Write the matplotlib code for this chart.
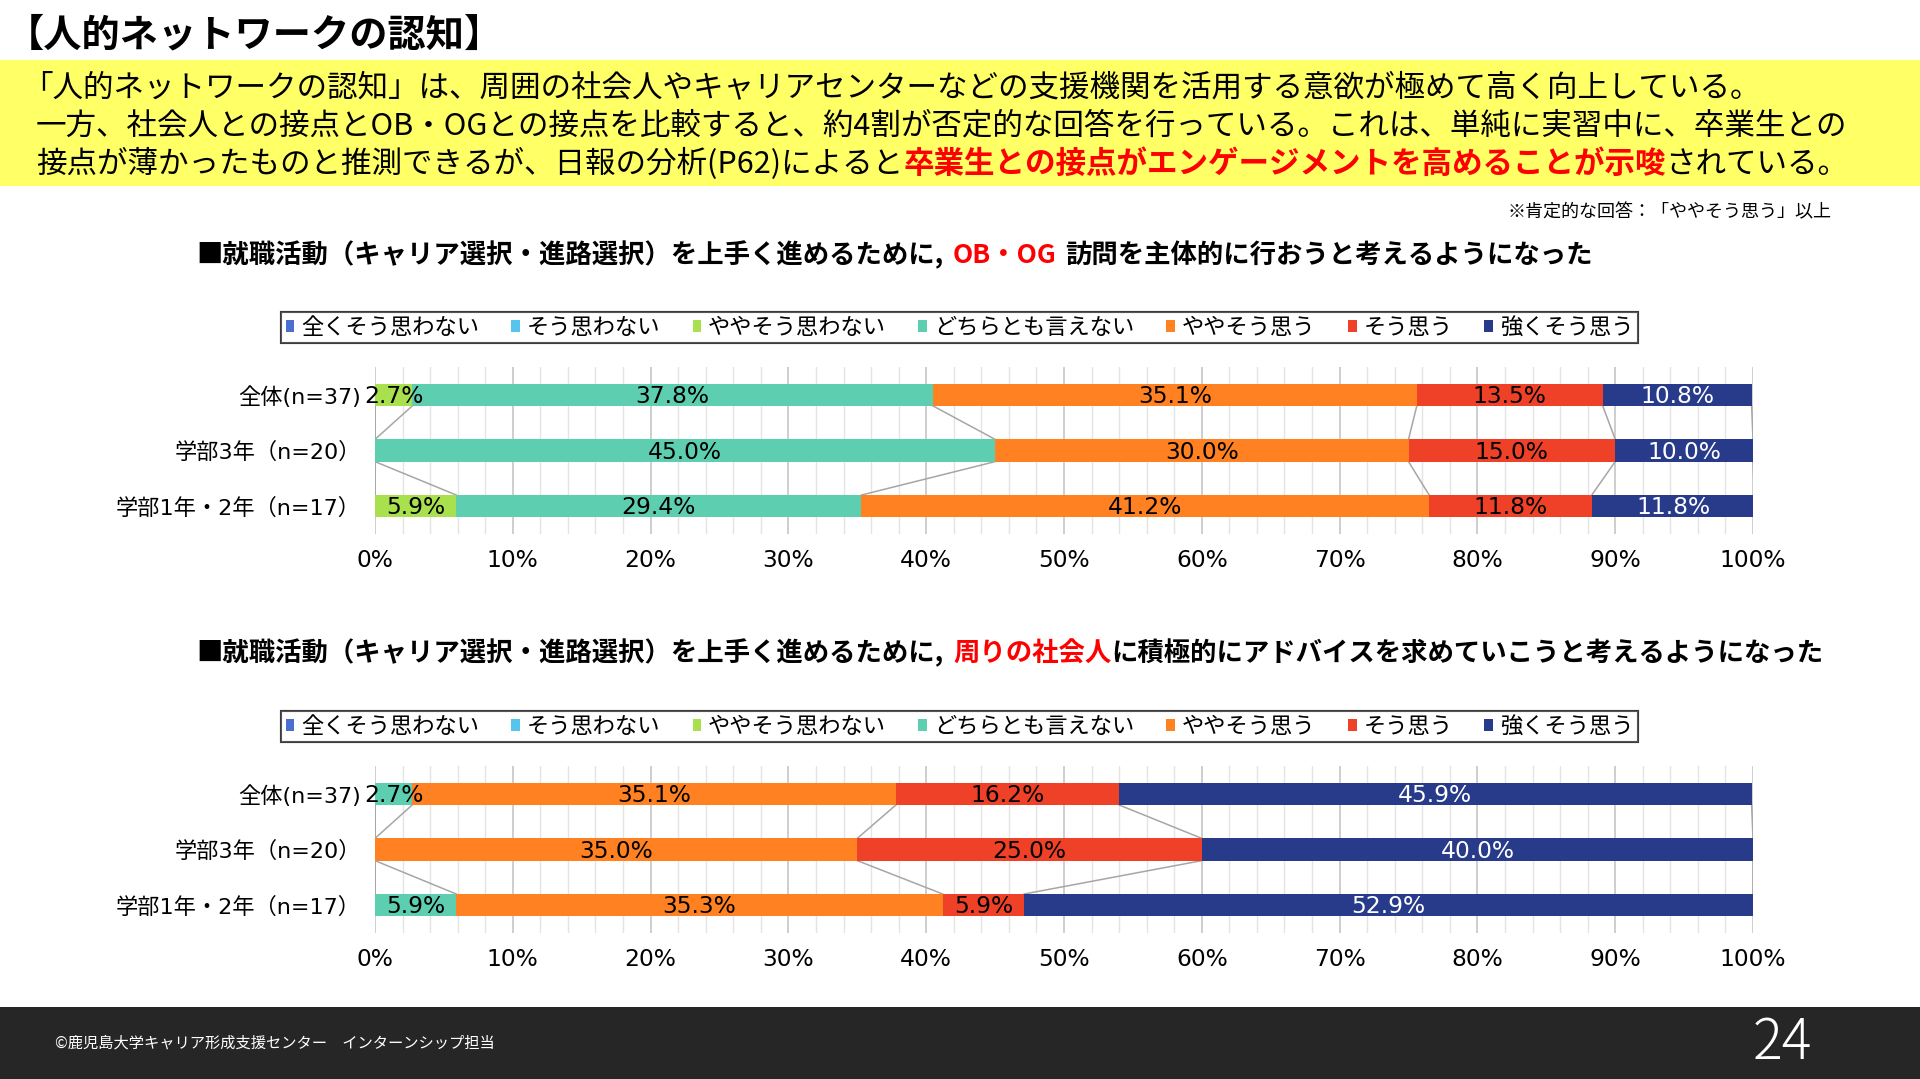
import numpy as np
import matplotlib.pyplot as plt
from matplotlib.patches import Rectangle, Patch
from matplotlib.text import Annotation

plt.rcParams['font.family'] = ['Noto Sans CJK JP', 'DejaVu Sans']

W, H = 1920, 1079

categories = ['全体(n=37)', '学部3年（n=20）', '学部1年・2年（n=17）']
answers = ['全くそう思わない', 'そう思わない', 'ややそう思わない', 'どちらとも言えない',
           'ややそう思う', 'そう思う', '強くそう思う']
colors = ['#4A6FD1', '#55C5EE', '#A8E04E', '#5DCFB0', '#FF8122', '#EE4128', '#283A8A']

# OB・OG訪問
obog_all = [0, 0, 2.7, 37.8, 35.1, 13.5, 10.8]
obog_y3 = [0, 0, 0, 45.0, 30.0, 15.0, 10.0]
obog_y12 = [0, 0, 5.9, 29.4, 41.2, 11.8, 11.8]

# 周りの社会人へのアドバイス
adv_all = [0, 0, 0, 2.7, 35.1, 16.2, 45.9]
adv_y3 = [0, 0, 0, 0, 35.0, 25.0, 40.0]
adv_y12 = [0, 0, 0, 5.9, 35.3, 5.9, 52.9]

xticks = [0, 10, 20, 30, 40, 50, 60, 70, 80, 90, 100]


def fx(x):
    return x / W


def fy(y):
    return 1 - y / H


fig = plt.figure(figsize=(19.2, 10.79), dpi=100)


def rich_text(x, y, parts, size, gaps=None):
    # parts: (text, color, weight) drawn one after another
    s, c, w = parts[0]
    t = fig.text(x, y, s, color=c, weight=w, fontsize=size, va='center', ha='left')
    for k, (s, c, w) in enumerate(parts[1:]):
        g = gaps[k] if gaps else 0
        a = Annotation(s, xy=(1, 0), xycoords=t, xytext=(g, 0), textcoords='offset points',
                       va='bottom', ha='left', color=c, weight=w, fontsize=size)
        fig.add_artist(a)
        t = a
    return t


def stacked(ax, rows):
    data = np.array(rows, dtype=float)
    cum = np.cumsum(data, axis=1)
    ypos = np.arange(len(rows))
    h = 0.4
    left = np.zeros(len(rows))
    for i in range(data.shape[1]):
        ax.barh(ypos, data[:, i], left=left, height=h, color=colors[i], zorder=3)
        for j in range(len(rows)):
            v = data[j, i]
            if v > 0:
                ax.text(left[j] + v / 2, ypos[j] + 0.03, f'{v:.1f}%', ha='center', va='center',
                        fontsize=16.8, family='DejaVu Sans',
                        color='white' if i == 6 else 'black', zorder=5)
        left = left + data[:, i]
    # series lines
    for i in range(data.shape[1]):
        for j in range(len(rows) - 1):
            ax.plot([cum[j, i], cum[j + 1, i]], [j + h / 2, j + 1 - h / 2],
                    color='#A6A6A6', lw=1.1, zorder=2)
    ax.set_xlim(0, 100)
    ax.set_ylim(2.5, -0.5)
    ax.set_yticks(ypos)
    ax.set_yticklabels(categories, fontsize=16, family=['DejaVu Sans', 'Noto Sans CJK JP'])
    ax.set_xticks(xticks)
    ax.set_xticklabels([f'{t}%' for t in xticks], fontsize=16.8, family='DejaVu Sans')
    ax.set_xticks(np.arange(0, 101, 2), minor=True)
    ax.grid(which='minor', axis='x', color='#E4E4E4', lw=1, zorder=0)
    ax.grid(which='major', axis='x', color='#C6C6C6', lw=1.2, zorder=0)
    ax.tick_params(which='both', length=0)
    ax.tick_params(axis='y', pad=10)
    ax.tick_params(axis='x', pad=11)
    for sp in ax.spines.values():
        sp.set_visible(False)


# header
fig.text(fx(6), fy(35), '【人的ネットワークの認知】', fontsize=27.5, weight='bold', va='center', ha='left')
fig.add_artist(Rectangle((0, fy(186)), 1, (186 - 60) / H, transform=fig.transFigure,
                         facecolor='#FFFF66', edgecolor='none', zorder=0))
fig.text(fx(22), fy(88), '「人的ネットワークの認知」は、周囲の社会人やキャリアセンターなどの支援機関を活用する意欲が極めて高く向上している。',
         fontsize=22, va='center', ha='left')
fig.text(fx(36), fy(126), '一方、社会人との接点とOB・OGとの接点を比較すると、約4割が否定的な回答を行っている。これは、単純に実習中に、卒業生との',
         fontsize=22, va='center', ha='left')
rich_text(fx(36), fy(164), [('接点が薄かったものと推測できるが、日報の分析(P62)によると', 'black', 'normal'),
                            ('卒業生との接点がエンゲージメントを高めることが示唆', '#FF0000', 'bold'),
                            ('されている。', 'black', 'normal')], 22)
fig.text(fx(1831), fy(212), '※肯定的な回答：「ややそう思う」以上', fontsize=13, va='center', ha='right')

# chart titles
rich_text(fx(196), fy(255), [('■就職活動（キャリア選択・進路選択）を上手く進めるために,', 'black', 'bold'),
                             ('OB・OG', '#FF0000', 'bold'),
                             ('訪問を主体的に行おうと考えるようになった', 'black', 'bold')], 19, gaps=[7, 6])
rich_text(fx(196), fy(653), [('■就職活動（キャリア選択・進路選択）を上手く進めるために,', 'black', 'bold'),
                             ('周りの社会人', '#FF0000', 'bold'),
                             ('に積極的にアドバイスを求めていこうと考えるようになった', 'black', 'bold')], 19, gaps=[7, 0])

# charts
ax1 = fig.add_axes([fx(375), fy(534), (1753 - 375) / W, (534 - 367) / H])
stacked(ax1, [obog_all, obog_y3, obog_y12])
ax2 = fig.add_axes([fx(375), fy(933), (1753 - 375) / W, (933 - 766) / H])
stacked(ax2, [adv_all, adv_y3, adv_y12])

handles = [Patch(facecolor=c) for c in colors]
for yc in (327.5, 726.5):
    leg = fig.legend(handles, answers, loc='center', bbox_to_anchor=(fx(959.5), fy(yc)), ncol=7,
                     frameon=True, fancybox=False, edgecolor='#333333', fontsize=16,
                     handlelength=0.4, handleheight=0.4, handletextpad=0.3,
                     columnspacing=1.45, borderpad=0.2)
    leg.get_frame().set_linewidth(1.5)
    fig.add_artist(leg)

# footer
fig.add_artist(Rectangle((0, 0), 1, (H - 1007) / H, transform=fig.transFigure,
                         facecolor='#262626', edgecolor='none'))
fig.text(fx(55), fy(1043), '©鹿児島大学キャリア形成支援センター　インターンシップ担当', fontsize=11,
         color='white', va='center', ha='left')
fig.text(fx(1782), fy(1043), '24', fontsize=40, color='white', va='center', ha='center', weight='light')

fig.savefig('out.png', dpi=100)
